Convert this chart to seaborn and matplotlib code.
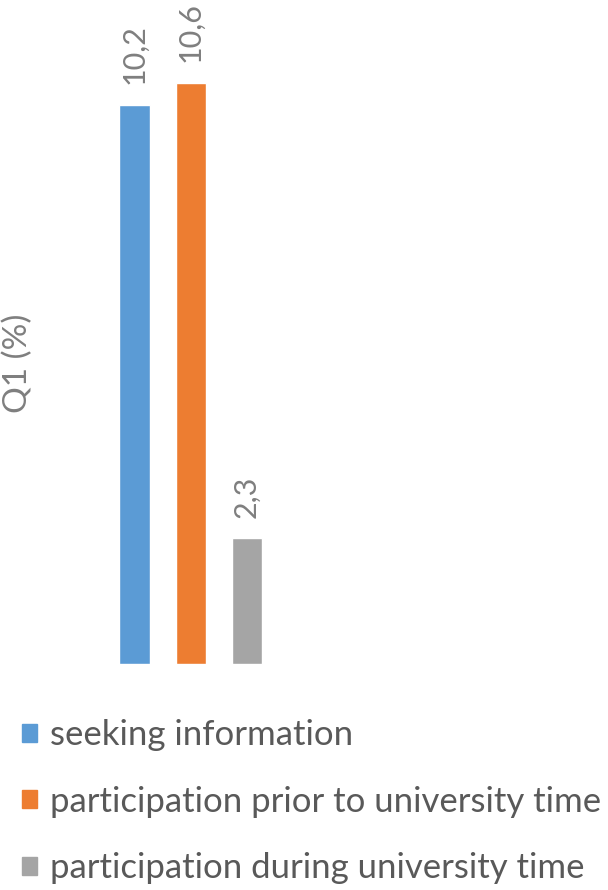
import matplotlib
matplotlib.use("Agg")
import matplotlib.pyplot as plt
import matplotlib.patches as mpatches
import seaborn as sns

# data
series = ["seeking information",
          "participation prior to university time",
          "participation during university time"]
values = [10.2, 10.6, 2.3]
value_labels = ["10,2", "10,6", "2,3"]
colors = ["#5B9BD5", "#ED7D31", "#A5A5A5"]

sns.set_style("white")
plt.rcParams['font.family'] = ['Lato', 'DejaVu Sans']

fig = plt.figure(figsize=(6.08, 8.9), dpi=100)
# axes: bottom of bars at 664 px, top at 76 px
ax = fig.add_axes([60/608, (890-664)/890, 530/608, (664-76)/890])

sns.barplot(x=series, y=values, hue=series, palette=colors,
            width=0.536, legend=False, ax=ax, saturation=1)

ax.set_ylim(0, 10.72)
ax.set_xlim(-1.33, 8.13)

# value labels, rotated
for cont, lab in zip(ax.containers, value_labels):
    ax.bar_label(cont, labels=[lab], rotation=90, padding=14.5,
                 fontsize=22, color="#7F7F7F", clip_on=False)

ax.set_ylabel("Q1 (%)", fontsize=24, color="#7F7F7F")
ax.yaxis.set_label_coords((33-60)/530, (664-363)/588)
ax.set_xticks([])
ax.set_yticks([])
ax.set_xlabel("")
for s in ax.spines.values():
    s.set_visible(False)

# legend at bottom
handles = [mpatches.Patch(color=c) for c in colors]
fig.legend(handles, series, loc="upper left",
           bbox_to_anchor=(22/608, 1 - 719/890), frameon=False,
           fontsize=25, labelcolor="#595959", handlelength=0.43,
           handleheight=0.43, handletextpad=0.38, labelspacing=1.0,
           borderpad=0, borderaxespad=0)

fig.savefig("out.png", dpi=100)
